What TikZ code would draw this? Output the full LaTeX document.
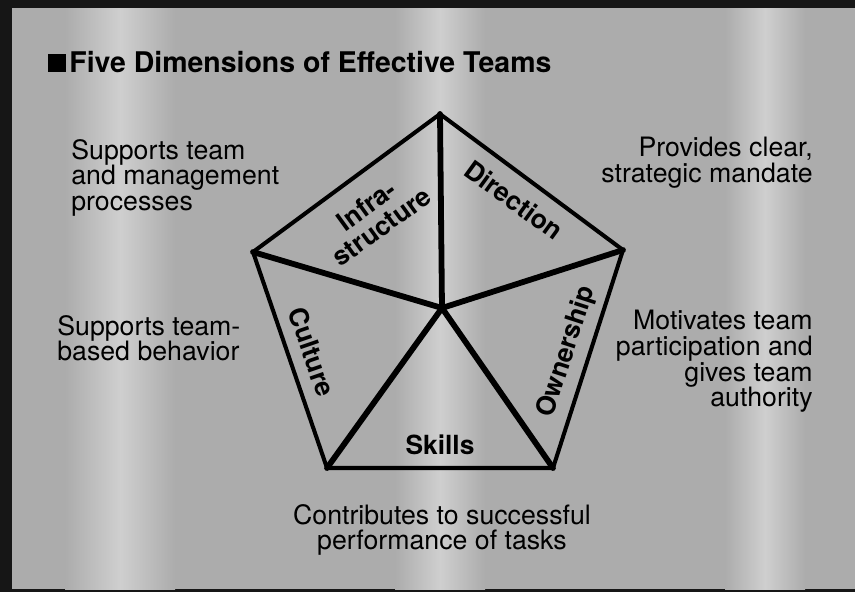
\documentclass[tikz,border=0pt]{standalone}
\usepackage{xcolor}
\usepackage{fontspec}
\setmainfont{TeX Gyre Heros}
\setsansfont{TeX Gyre Heros}
\usepackage{tikz}
\usetikzlibrary{positioning, calc}
\definecolor{paperGray}{HTML}{ACACAC}
\definecolor{paperLight}{HTML}{CFCFCF}
\definecolor{scanBlack}{HTML}{161616}

\begin{document}
\begin{tikzpicture}[x=0.02cm, y=-0.02cm, font=\sffamily\fontsize{15.2}{14.6}\selectfont,
        noteText/.style={inner sep=0pt, align=left},
        dimLabel/.style={inner sep=0pt, align=center, font=\sffamily\bfseries\fontsize{15}{14.6}\selectfont},
        rim/.style={line width=2.3pt, line join=miter},
        spoke/.style={line width=3.3pt, line cap=round}]
        % Scanned sheet with dark edges and lighter streaks
        \fill[scanBlack] (0,0) rectangle (855,592);
        \fill[paperGray] (12,8) rectangle (855,589);
        \foreach \bx/\bw in {120/55, 440/45, 765/40} {
            \fill[left color=paperGray, right color=paperLight] (\bx-\bw,8) rectangle (\bx,589);
            \fill[left color=paperLight, right color=paperGray] (\bx,8) rectangle (\bx+\bw,589);
        }
        \useasboundingbox (0,0) rectangle (855,592);

        % Title
        \node[anchor=base west, inner sep=0pt, font=\sffamily\bfseries\fontsize{16.2}{17}\selectfont] (title) at (48,72) {\rule{10pt}{10pt}\hspace{2pt}Five Dimensions of Effective Teams};

        % Pentagon corners and hub
        \coordinate (apex) at (440,114);
        \coordinate (rightCorner) at (623,250);
        \coordinate (rightFoot) at (553,468);
        \coordinate (leftFoot) at (327,468);
        \coordinate (leftCorner) at (253,252);
        \coordinate (hub) at (442,308);

        \draw[rim] (apex) -- (rightCorner) -- (rightFoot) -- (leftFoot) -- (leftCorner) -- cycle;
        \foreach \corner in {apex, rightCorner, rightFoot, leftFoot, leftCorner}
            \draw[spoke] (hub) -- (\corner);

        % Dimension labels
        \node[dimLabel, rotate=36] (infra) at (374,216) {Infra-\\structure};
        \node[dimLabel, rotate=-36] (direction) at (514,200) {Direction};
        \node[dimLabel, rotate=72] (ownership) at (567,352) {Ownership};
        \node[dimLabel, rotate=-71] (culture) at (312,352) {Culture};
        \node[dimLabel] (skills) at (440,445) {Skills};

        % What each dimension does
        \node[noteText, anchor=north west] (infraNote) at (71,139) {Supports team\\and management\\processes};
        \node[noteText, anchor=north west] (cultureNote) at (57,315) {Supports team-\\based behavior};
        \node[noteText, anchor=north east, align=right] (directionNote) at (813,137) {Provides clear,\\strategic mandate};
        \node[noteText, anchor=north east, align=right] (ownershipNote) at (813,310) {Motivates team\\participation and\\gives team\\authority};
        \node[noteText, anchor=north, align=center] (skillsNote) at (442,504) {Contributes to successful\\performance of tasks};
    \end{tikzpicture}
\end{document}
